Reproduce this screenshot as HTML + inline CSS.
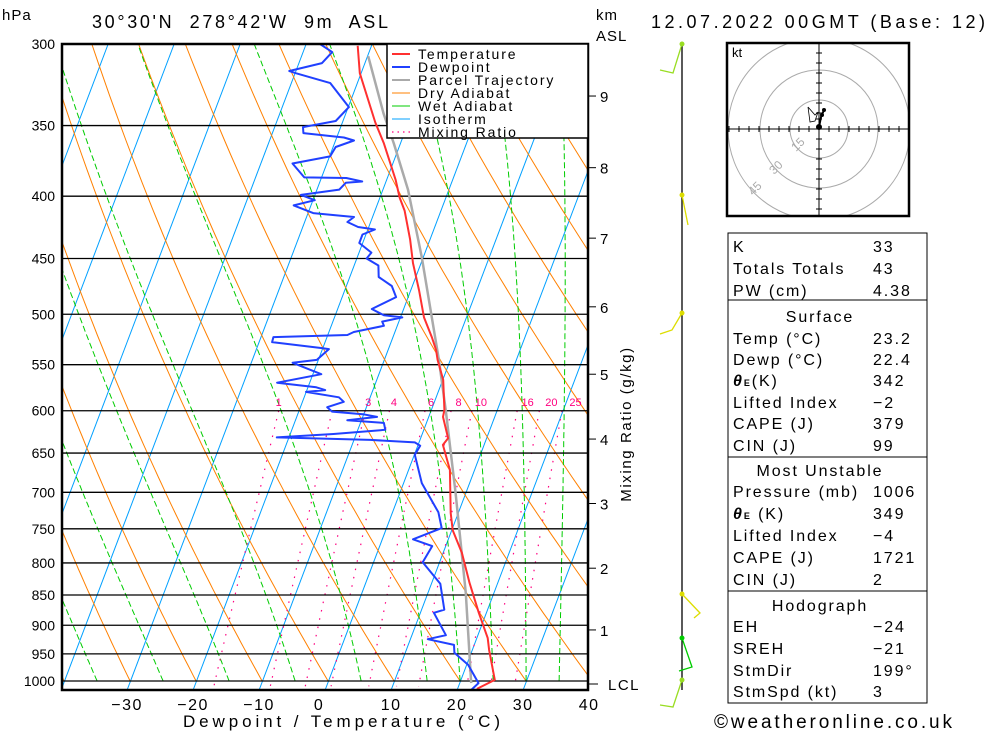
<!DOCTYPE html>
<html><head><meta charset="utf-8">
<style>
html,body{margin:0;padding:0;background:#fff;}
svg{display:block;}
text{font-family:"Liberation Sans",sans-serif;}
</style></head>
<body>
<svg id="chart" width="1000" height="733" viewBox="0 0 1000 733">
<defs><clipPath id="plotclip"><rect x="62" y="44" width="526" height="646"/></clipPath>
<clipPath id="hodoclip"><rect x="727" y="43" width="182" height="173"/></clipPath></defs>
<g id="bg" clip-path="url(#plotclip)"></g>
<g id="curves" clip-path="url(#plotclip)"></g>
<g id="ann"></g>
</svg>
<script>
// ---- data ----
const pressureTicks = [300,350,400,450,500,550,600,650,700,750,800,850,900,950,1000];
const tempTicks = [-30,-20,-10,0,10,20,30,40];
const kmLabels = ["9","8","7","6","5","4","3","2","1"];
const kmPressures = [331,379,433,493,560,633,715,808,908];
const mixRatios = [1,2,3,4,6,8,10,16,20,25];
const mixLabels = ["1","","3","4","6","8","10","16","20","25"];
const isotherms = [-110,-100,-90,-80,-70,-60,-50,-40,-30,-20,-10,0,10,20,30,40];
const dryThetas = [-60,-50,-40,-30,-20,-10,0,10,20,30,40,50,60,70,80,90,100,110,120,130,140,150];
const wetThetas = [-35,-25,-15,-5,5,15,20,25,30,35];
const tempP = [301,317,348,362,388,401,411,434,454,478,503,522,535,545,566,599,607,632,640,671,728,752,785,831,879,922,943,998,1015];
const tempT = [-32.1,-30.2,-25.0,-22.5,-18.6,-17.0,-15.5,-13.0,-11.2,-8.7,-6.4,-4.1,-2.7,-1.9,0.1,2.0,2.2,4.2,3.8,6.3,8.9,10.2,12.9,15.8,18.9,21.7,22.6,25.2,23.0];
const dewP = [300,304.6,311,315.7,317,323,338,347,351,355,358,360,364.5,371,376,386,386.5,389,390,395,399,403,407,413,416,420,424,426,430,437,445,450,456,466,474,484,495,501,503,507,511,517,520,522,527,533,534,545,548,560,569,574,577,579,585,590,596,601,604,607,611,614,622,627,631,634,637,641,652,688,727,749,765,775,799,832,874,879,917,924,934,948,970,1004,1017];
const dewT = [-37.9,-35.6,-36.5,-41.0,-39.9,-34.1,-29.9,-31.1,-35.7,-35.3,-28.9,-27.2,-29.6,-29.9,-35.2,-32.6,-26.2,-23.6,-26.0,-26.6,-32.1,-29.7,-32.6,-29.2,-22.8,-23.5,-21.6,-18.9,-20.5,-20.5,-18.1,-18.5,-16.3,-15.6,-13.1,-11.8,-14.8,-12.6,-9.7,-12.5,-12.0,-16.2,-17.0,-28.1,-28.0,-20.1,-19.0,-20.2,-23.7,-18.7,-24.9,-18.7,-17.2,-20.0,-14.7,-13.7,-15.9,-14.9,-10.1,-7.8,-12.1,-6.4,-5.8,-13.4,-21.8,-7.5,-0.6,0.4,0.1,2.8,7.0,8.4,4.7,8.0,7.5,11.4,13.5,12.1,15.2,12.7,17.0,17.5,20.3,22.9,22.2];
const parcelP = [307,342,362,395,449,545,599,701,847,1004];
const parcelT = [-29.9,-24.3,-21.0,-16.2,-10.2,-1.7,2.2,8.5,15.8,21.8];

// ---- axes ----
const NS="http://www.w3.org/2000/svg";
const Y = p => 44 + Math.log(p/300)/Math.log(10/3)*637;
const X = (T,p) => 324.7 + 6.6*T + 0.38*(690 - Y(p));
const PBOT = 1015;
function mk(tag, attrs, parent){const e=document.createElementNS(NS,tag);for(const k in attrs)e.setAttribute(k,attrs[k]);parent.appendChild(e);return e;}
function pathFrom(pts){return pts.map((q,i)=>(i?'L':'M')+q[0].toFixed(1)+','+q[1].toFixed(1)).join('');}
const bg=document.getElementById('bg'), curves=document.getElementById('curves'), ann=document.getElementById('ann');

isotherms.forEach(T=>{
  const e=mk('line',{x1:X(T,PBOT),y1:690,x2:X(T,300),y2:44,stroke:'#00a0ff','stroke-width':1},bg);
  
  
});
dryThetas.forEach(th=>{
  const pts=[];for(let p=1000;p>=300;p-=10){const T=(th+273.15)*Math.pow(p/1000,0.286)-273.15;pts.push([X(T,p),Y(p)]);}
  const e=mk('path',{d:pathFrom(pts),fill:'none',stroke:'#ff8000','stroke-width':1},bg);
  
  
});
function lapse(T,p){const Tk=T+273.15;const es=6.112*Math.exp(17.67*T/(T+243.5));const rs=0.622*es/(p-es);
  return (287*Tk+2.5e6*rs)/(1004+2.5e6*2.5e6*rs*0.622/(287*Tk*Tk))/p;}
wetThetas.forEach(t0=>{
  let T=t0;const pts=[[X(T,1000),Y(1000)]];
  for(let p=1000;p>300;p-=2){T-=lapse(T,p)*2;pts.push([X(T,p-2),Y(p-2)]);}
  const e=mk('path',{d:pathFrom(pts),fill:'none',stroke:'#00cc00','stroke-width':1,'stroke-dasharray':'6,3'},bg);
  
  
});
function tdFromW(w,p){const e=w*p/(622+w);const l=Math.log(e/6.112);return 243.5*l/(17.67-l);}
mixRatios.forEach((w,i)=>{
  const pts=[];for(let p=600;p<=PBOT;p+=10)pts.push([X(tdFromW(w,p),p),Y(p)]);
  const e=mk('path',{d:pathFrom(pts),fill:'none',stroke:'#ff0080','stroke-width':1.2,'stroke-dasharray':'1.5,7'},bg);
  
  
  if(mixLabels[i]){const t=mk('text',{x:X(tdFromW(w,600),600)+i*1.5,y:406,'font-size':11,fill:'#ff0080','text-anchor':'middle'},ann);t.textContent=mixLabels[i];
  
  }
});
pressureTicks.forEach(p=>{
  const e=mk('line',{x1:62,y1:Y(p),x2:588,y2:Y(p),stroke:'#000','stroke-width':1.3},bg);
  
  
  const t=mk('text',{x:55,y:Y(p)+5,'font-size':14,'text-anchor':'end',fill:'#000'},ann);t.textContent=p;
  
  
});
function series(P,T,color,w,name){
  const pts=P.map((p,i)=>[X(T[i],p),Y(p)]);
  const e=mk('path',{d:pathFrom(pts),fill:'none',stroke:color,'stroke-width':w,'stroke-linejoin':'round'},curves);
  
  
}
series(parcelP,parcelT,'#aaaaaa',2.5,'parcel-trajectory-line');
series(dewP,dewT,'#2040ff',2,'dewpoint-line');
series(tempP,tempT,'#ff3030',2,'temperature-line');
tempTicks.forEach(T=>{
  const t=mk('text',{x:X(T,PBOT)-(T===0?6:0),y:710,'font-size':16,'text-anchor':'middle','letter-spacing':1.5},ann);t.textContent=(T<0?'−':'')+Math.abs(T);
  
  
});
kmPressures.forEach((p,i)=>{
  const l=mk('line',{x1:588,y1:Y(p),x2:596,y2:Y(p),stroke:'#000','stroke-width':1},ann);
  
  
  const t=mk('text',{x:600,y:Y(p)+6,'font-size':15},ann);t.textContent=kmLabels[i];
  
  
});
</script>
<svg width="1000" height="733" viewBox="0 0 1000 733" style="position:absolute;left:0;top:0">
<rect x="62" y="44" width="526" height="646" fill="none" stroke="#000" stroke-width="2.5"/>
<line x1="588" y1="684" x2="598" y2="684" stroke="#000"/>
<text x="608" y="690" font-size="15" letter-spacing="1.5">LCL</text>
<text x="2" y="20" font-size="15" letter-spacing="1">hPa</text>
<text x="92" y="28" font-size="18" textLength="296" lengthAdjust="spacing" xml:space="preserve">30°30'N  278°42'W  9m  ASL</text>
<text x="596" y="20" font-size="15" letter-spacing="1">km</text>
<text x="596" y="41" font-size="15" letter-spacing="1">ASL</text>
<text x="651" y="28" font-size="18" textLength="334" lengthAdjust="spacing">12.07.2022 00GMT (Base: 12)</text>
<text x="183" y="727" font-size="17" textLength="317" lengthAdjust="spacing">Dewpoint / Temperature (°C)</text>
<text transform="translate(631,424) rotate(-90)" font-size="15" text-anchor="middle" letter-spacing="1.6">Mixing Ratio (g/kg)</text>
<g>
<rect x="387" y="44" width="201" height="94" fill="#fff" stroke="#000" stroke-width="1.5"/>
<g font-size="14" letter-spacing="1.9">
<line x1="392" y1="54" x2="410" y2="54" stroke="#ff3030" stroke-width="2"/><text x="418" y="59">Temperature</text>
<line x1="392" y1="67" x2="410" y2="67" stroke="#2040ff" stroke-width="2"/><text x="418" y="72">Dewpoint</text>
<line x1="392" y1="80" x2="410" y2="80" stroke="#aaa" stroke-width="2"/><text x="418" y="85">Parcel Trajectory</text>
<line x1="392" y1="93" x2="410" y2="93" stroke="#ff8000" stroke-width="1"/><text x="418" y="98">Dry Adiabat</text>
<line x1="392" y1="106" x2="410" y2="106" stroke="#00cc00" stroke-width="1"/><text x="418" y="111">Wet Adiabat</text>
<line x1="392" y1="119" x2="410" y2="119" stroke="#00a0ff" stroke-width="1"/><text x="418" y="124">Isotherm</text>
<line x1="392" y1="132" x2="410" y2="132" stroke="#ff0080" stroke-width="1.2" stroke-dasharray="1.5,4"/><text x="418" y="137">Mixing Ratio</text>
</g></g>
<g>
<line x1="682" y1="44" x2="682" y2="690" stroke="#000" stroke-width="1.3"/>
<polyline points="682,44 673,73 660,70" fill="none" stroke="#99dd22" stroke-width="1.3"/><circle cx="682" cy="44" r="2.5" fill="#99dd22"/>
<polyline points="682,195 688,225" fill="none" stroke="#dddd00" stroke-width="1.3"/><circle cx="682" cy="195" r="2.5" fill="#dddd00"/>
<polyline points="682,313 672,330 660,334" fill="none" stroke="#dddd00" stroke-width="1.3"/><circle cx="682" cy="313" r="2.5" fill="#dddd00"/>
<polyline points="682,594 700,613 694,618" fill="none" stroke="#dddd00" stroke-width="1.3"/><circle cx="682" cy="594" r="2.5" fill="#dddd00"/>
<polyline points="682,638 692,667 679,671" fill="none" stroke="#00cc00" stroke-width="1.3"/><circle cx="682" cy="638" r="2.5" fill="#00cc00"/>
<polyline points="682,680 673,707 660,705" fill="none" stroke="#99dd22" stroke-width="1.3"/><circle cx="682" cy="680" r="2.5" fill="#99dd22"/>
</g>
<g>
<g clip-path="url(#hodoclip)" fill="none" stroke="#aaa" stroke-width="1">
<circle cx="819" cy="129" r="29"/><circle cx="819" cy="129" r="59"/><circle cx="819" cy="129" r="91"/>
</g>
<line x1="727" y1="129" x2="909" y2="129" stroke="#000"/><line x1="819" y1="43" x2="819" y2="216" stroke="#000"/>
<g stroke="#000" stroke-width="1">
<path d="M729,126v6M739,126v6M749,126v6M759,126v6M769,126v6M779,126v6M789,126v6M799,126v6M809,126v6M829,126v6M839,126v6M849,126v6M859,126v6M869,126v6M879,126v6M889,126v6M899,126v6"/>
<path d="M816,53h6M816,63h6M816,73h6M816,83h6M816,93h6M816,103h6M816,113h6M816,119h6M816,139h6M816,149h6M816,159h6M816,169h6M816,179h6M816,189h6M816,199h6M816,209h6"/>
</g>
<g fill="#aaa" font-size="12"><text transform="translate(796,152) rotate(-45)">15</text><text transform="translate(774,175) rotate(-45)">30</text><text transform="translate(753,196) rotate(-45)">45</text></g>
<polyline points="808,107 815,115 818,112 815,121 810,122 808,107" fill="none" stroke="#000" stroke-width="0.8"/>
<polyline points="824,110 821,117 819,127" fill="none" stroke="#000" stroke-width="2"/>
<circle cx="824" cy="110" r="2" fill="#000"/><circle cx="822" cy="115" r="2" fill="#000"/><circle cx="819" cy="127" r="3" fill="#000"/>
<rect x="727" y="43" width="182" height="173" fill="none" stroke="#000" stroke-width="2.5"/>
<text x="732" y="57" font-size="13">kt</text>
</g>
<g font-size="16" letter-spacing="1.9">
<rect x="728" y="233" width="199" height="67" fill="none" stroke="#000"/>
<rect x="728" y="300" width="199" height="157" fill="none" stroke="#000"/>
<rect x="728" y="457" width="199" height="134" fill="none" stroke="#000"/>
<rect x="728" y="591" width="199" height="112" fill="none" stroke="#000"/>
<text x="733" y="252">K</text><text x="873" y="252">33</text>
<text x="733" y="274">Totals Totals</text><text x="873" y="274">43</text>
<text x="733" y="296">PW (cm)</text><text x="873" y="296">4.38</text>
<text x="820" y="322" text-anchor="middle">Surface</text>
<text x="733" y="344">Temp (°C)</text><text x="873" y="344">23.2</text>
<text x="733" y="365">Dewp (°C)</text><text x="873" y="365">22.4</text>
<text x="733" y="386"><tspan font-style="italic" font-weight="bold">θ</tspan><tspan font-size="9" font-weight="bold">E</tspan>(K)</text><text x="873" y="386">342</text>
<text x="733" y="408">Lifted Index</text><text x="873" y="408">−2</text>
<text x="733" y="429">CAPE (J)</text><text x="873" y="429">379</text>
<text x="733" y="451">CIN (J)</text><text x="873" y="451">99</text>
<text x="820" y="476" text-anchor="middle">Most Unstable</text>
<text x="733" y="497">Pressure (mb)</text><text x="873" y="497">1006</text>
<text x="733" y="519"><tspan font-style="italic" font-weight="bold">θ</tspan><tspan font-size="9" font-weight="bold">E</tspan> (K)</text><text x="873" y="519">349</text>
<text x="733" y="541">Lifted Index</text><text x="873" y="541">−4</text>
<text x="733" y="563">CAPE (J)</text><text x="873" y="563">1721</text>
<text x="733" y="585">CIN (J)</text><text x="873" y="585">2</text>
<text x="820" y="611" text-anchor="middle">Hodograph</text>
<text x="733" y="632">EH</text><text x="873" y="632">−24</text>
<text x="733" y="654">SREH</text><text x="873" y="654">−21</text>
<text x="733" y="676">StmDir</text><text x="873" y="676">199°</text>
<text x="733" y="697">StmSpd (kt)</text><text x="873" y="697">3</text>
</g>
<text x="714" y="728" font-size="19" textLength="238" lengthAdjust="spacing">©weatheronline.co.uk</text>
</svg>
</body></html>
